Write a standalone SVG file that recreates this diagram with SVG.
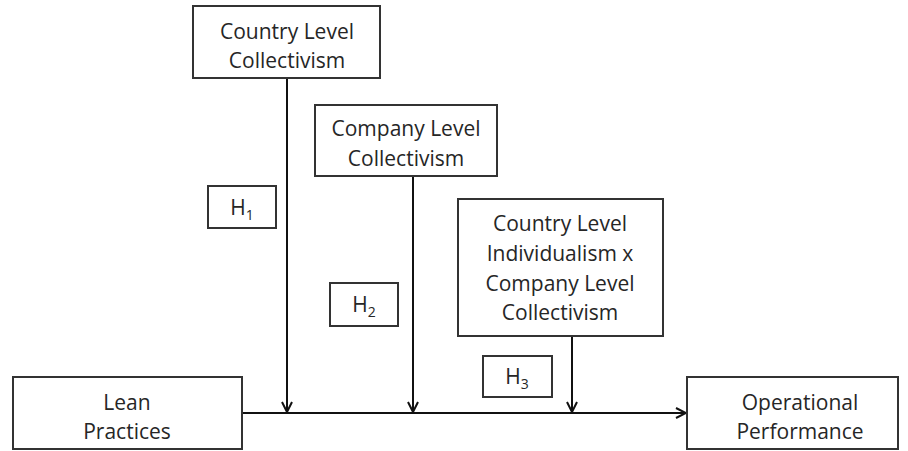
<svg xmlns="http://www.w3.org/2000/svg" width="908" height="451" viewBox="0 0 908 451">
<style>
.box{fill:#fff;stroke:#333;stroke-width:2}
.t{font-family:"Open Sans","Liberation Sans",sans-serif;font-size:21px;fill:#262626;text-anchor:middle}
.s{font-size:14px}
.c{stroke:#111;stroke-width:2;fill:none}
</style>
<defs>
<marker id="ah" viewBox="0 0 12 12" refX="11" refY="6" markerWidth="12" markerHeight="12" markerUnits="userSpaceOnUse" orient="auto">
<path d="M1,1 L11,6 L1,11" fill="none" stroke="#111" stroke-width="2"/>
</marker>
</defs>
<rect width="908" height="451" fill="#fff"/>
<g id="connectors">
<line class="c" x1="242" y1="413" x2="686" y2="413" marker-end="url(#ah)"/>
<line class="c" x1="287" y1="78" x2="287" y2="412" marker-end="url(#ah)"/>
<line class="c" x1="413" y1="176" x2="413" y2="412" marker-end="url(#ah)"/>
<line class="c" x1="572" y1="336" x2="572" y2="412" marker-end="url(#ah)"/>
</g>
<g id="country">
<rect class="box" x="193" y="6" width="187" height="72"/>
<text class="t" x="287" y="39">Country Level</text>
<text class="t" x="287" y="68">Collectivism</text>
</g>
<g id="company">
<rect class="box" x="315" y="105" width="182" height="71"/>
<text class="t" x="406" y="136">Company Level</text>
<text class="t" x="406" y="166">Collectivism</text>
</g>
<g id="interaction">
<rect class="box" x="458" y="199" width="205" height="137"/>
<text class="t" x="560" y="231">Country Level</text>
<text class="t" x="560" y="261">Individualism x</text>
<text class="t" x="560" y="291">Company Level</text>
<text class="t" x="560" y="320">Collectivism</text>
</g>
<g id="lean">
<rect class="box" x="13" y="377" width="229" height="72"/>
<text class="t" x="127" y="410">Lean</text>
<text class="t" x="127" y="439">Practices</text>
</g>
<g id="performance">
<rect class="box" x="687" y="377" width="211" height="72"/>
<text class="t" x="800" y="410">Operational</text>
<text class="t" x="800" y="439">Performance</text>
</g>
<g id="h1">
<rect class="box" x="208" y="186" width="68" height="42"/>
<text class="t" x="242" y="215">H<tspan class="s" dy="5">1</tspan></text>
</g>
<g id="h2">
<rect class="box" x="330" y="283" width="68" height="43"/>
<text class="t" x="364" y="312">H<tspan class="s" dy="5">2</tspan></text>
</g>
<g id="h3">
<rect class="box" x="483" y="356" width="69" height="41"/>
<text class="t" x="517" y="384">H<tspan class="s" dy="5">3</tspan></text>
</g>
</svg>
